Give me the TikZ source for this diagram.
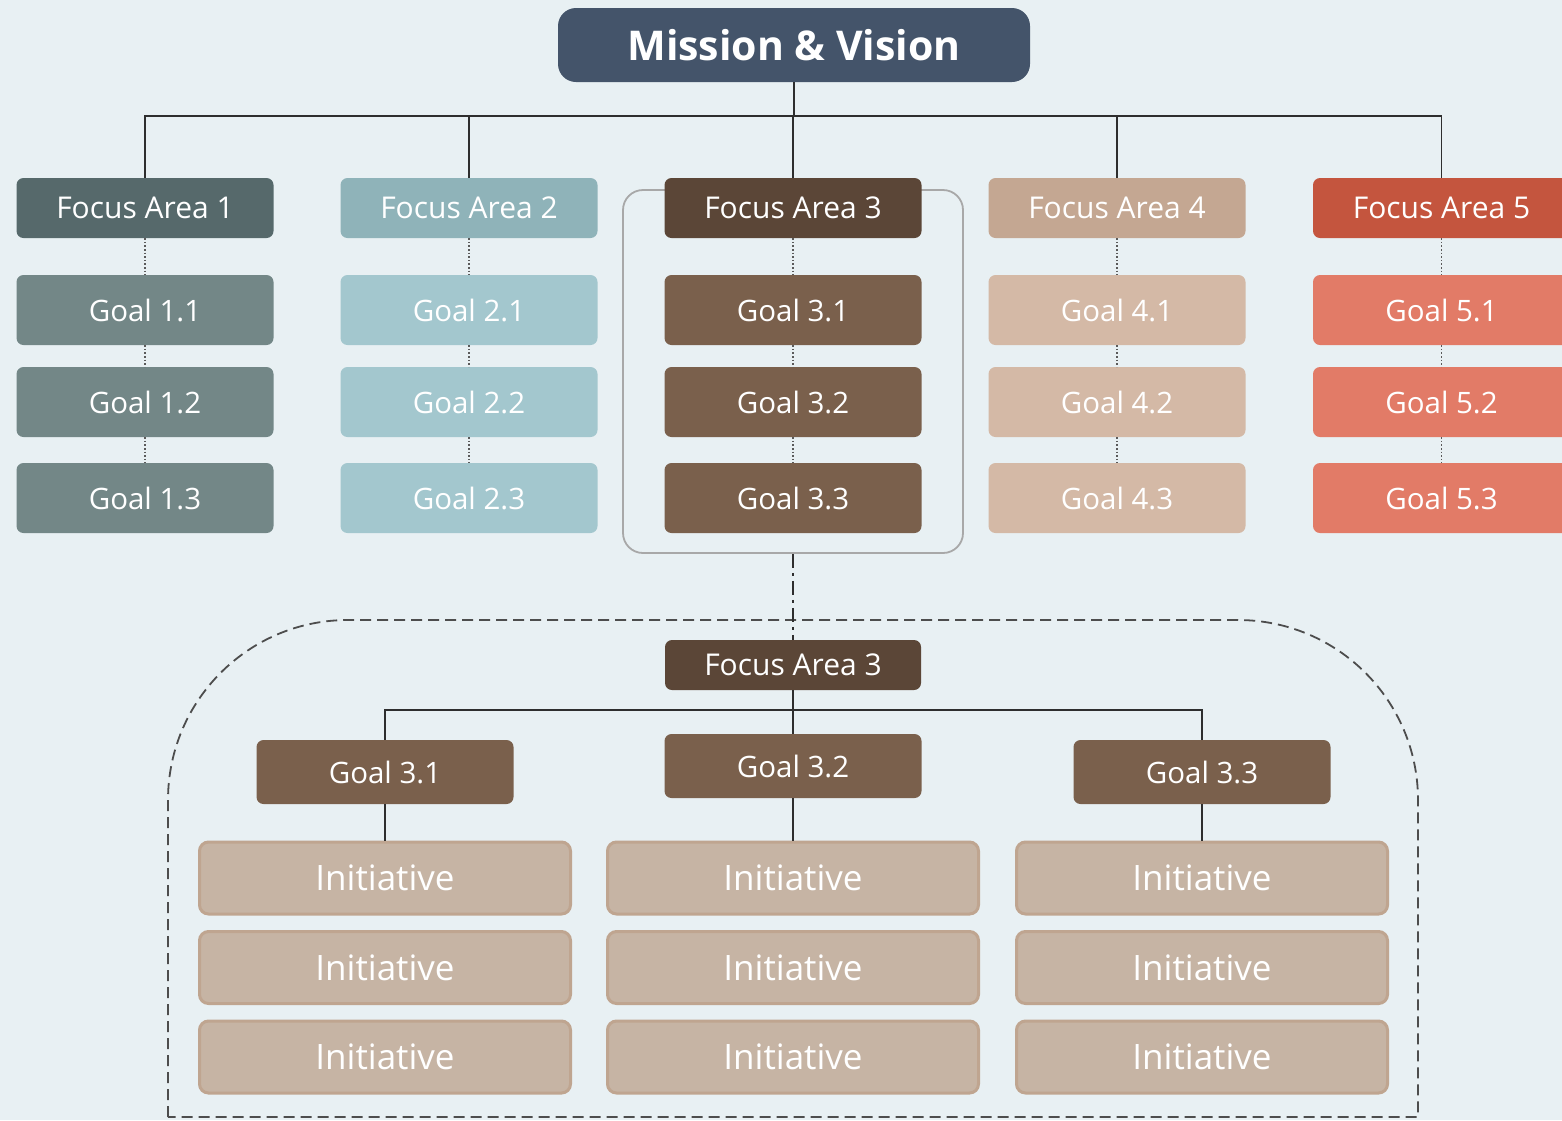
\documentclass[tikz,border=0pt]{standalone}
\usepackage{fontspec}
\setmainfont{Open Sans}
\begin{document}
\begin{tikzpicture}[x=1pt,y=-1pt,
  box/.style={rectangle,rounded corners=7pt,inner sep=0pt,text=white,minimum width=257pt},
  fabox/.style={box,minimum height=60pt,font=\fontsize{30}{32}\selectfont},
  goalbox/.style={box,minimum height=70pt,font=\fontsize{29.5}{31}\selectfont},
  inibox/.style={rectangle,rounded corners=9pt,inner sep=0pt,text=white,minimum width=371pt,minimum height=72pt,fill=iniF,draw=iniD,line width=3pt,font=\fontsize{35}{37}\selectfont},
  conn/.style={draw=lineC,line width=1.8pt},
  dotc/.style={draw=dotC,line width=1.6pt,dotted},
]
\definecolor{bgC}{HTML}{E8F0F3}
\definecolor{msC}{HTML}{44546A}
\definecolor{lineC}{HTML}{2E2E2E}
\definecolor{dotC}{HTML}{5A5A5A}
\definecolor{faA}{HTML}{56696B}\definecolor{gA}{HTML}{738787}
\definecolor{faB}{HTML}{8FB3B9}\definecolor{gB}{HTML}{A3C7CE}
\definecolor{faC}{HTML}{5B4637}\definecolor{gC}{HTML}{7A604C}
\definecolor{faD}{HTML}{C4A792}\definecolor{gD}{HTML}{D4B9A6}
\definecolor{faE}{HTML}{C4553E}\definecolor{gE}{HTML}{E27B67}
\definecolor{iniF}{HTML}{C6B4A4}\definecolor{iniD}{HTML}{BFA590}
\definecolor{grpC}{HTML}{A8A8A8}

\useasboundingbox (0,0) rectangle (1562,1120);
\clip (0,0) rectangle (1562,1120);
\fill[bgC] (0,0) rectangle (1562,1120);

% group box around focus area 3
\node[draw=grpC,line width=1.8pt,rounded corners=20pt,minimum width=340pt,minimum height=363pt,inner sep=0pt] (grp) at (793,371.5) {};

% mission
\node[rectangle,rounded corners=18pt,fill=msC,minimum width=472pt,minimum height=74pt,text=white,font=\bfseries\fontsize{41}{44}\selectfont] (ms) at (794,45) {Mission \& Vision};

% focus areas
\node[fabox,fill=faA] (fa1) at (145,208) {Focus Area 1};
\node[fabox,fill=faB] (fa2) at (469,208) {Focus Area 2};
\node[fabox,fill=faC] (fa3) at (793,208) {Focus Area 3};
\node[fabox,fill=faD] (fa4) at (1117,208) {Focus Area 4};
\node[fabox,fill=faE] (fa5) at (1441.5,208) {Focus Area 5};

% bus connectors
\foreach \f in {fa1,fa2,fa3,fa4,fa5}{
  \draw[conn] (ms.south) -- ++(0,34) -| (\f.north);
}

% goals
\foreach \i/\x/\c in {1/145/gA,2/469/gB,3/793/gC,4/1117/gD,5/1441.5/gE}{
  \node[goalbox,fill=\c] (g\i a) at (\x,310) {Goal \i.1};
  \node[goalbox,fill=\c] (g\i b) at (\x,402) {Goal \i.2};
  \node[goalbox,fill=\c] (g\i c) at (\x,498) {Goal \i.3};
  \draw[dotc] (fa\i.south) -- (g\i a.north);
  \draw[dotc] (g\i a.south) -- (g\i b.north);
  \draw[dotc] (g\i b.south) -- (g\i c.north);
}

% lower detail
\draw[draw=lineC!85,line width=1.8pt,dash pattern=on 11pt off 6pt] (168,1117) -- (168,800) arc[start angle=180,end angle=270,radius=180] -- (1238,620) arc[start angle=270,end angle=360,radius=180] -- (1418,1117) -- cycle;

\node[box,fill=faC,minimum width=256pt,minimum height=50pt,font=\fontsize{30}{32}\selectfont] (fb3) at (793,665) {Focus Area 3};
\draw[draw=lineC,line width=1.8pt,dash pattern=on 14pt off 5pt on 3pt off 5pt] (grp.south) -- (fb3.north);

\node[box,fill=gC,minimum height=64pt,font=\fontsize{29.5}{31}\selectfont] (h1) at (385,772) {Goal 3.1};
\node[box,fill=gC,minimum height=64pt,font=\fontsize{29.5}{31}\selectfont] (h2) at (793,766) {Goal 3.2};
\node[box,fill=gC,minimum height=64pt,font=\fontsize{29.5}{31}\selectfont] (h3) at (1202,772) {Goal 3.3};
\foreach \h in {h1,h2,h3}{
  \draw[conn] (fb3.south) -- ++(0,20) -| (\h.north);
}

\foreach \k/\x in {1/385,2/793,3/1202}{
  \node[inibox] (i\k a) at (\x,878) {Initiative};
  \node[inibox] (i\k b) at (\x,967.5) {Initiative};
  \node[inibox] (i\k c) at (\x,1057) {Initiative};
  \draw[conn] (h\k.south) -- (i\k a.north);
}
\end{tikzpicture}
\end{document}
